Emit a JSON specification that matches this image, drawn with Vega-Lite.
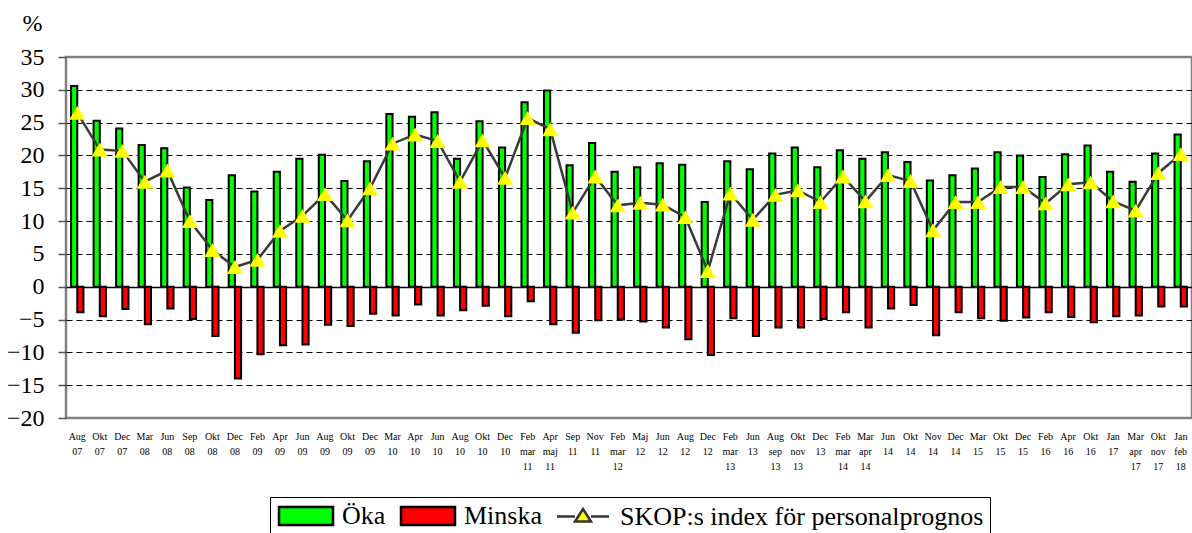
{
  "$schema": "https://vega.github.io/schema/vega-lite/v6.json",
  "autosize": "none",
  "width": 1126,
  "height": 361,
  "padding": {"left": 66, "top": 57, "right": 0, "bottom": 115},
  "background": "white",
  "config": {
    "view": {"stroke": "#808080", "strokeWidth": 2.5},
    "font": "Liberation Serif"
  },
  "data": {
    "values": [
      {"p": "Aug 07", "Öka": 30.6, "Minska": -3.9, "idx": 26.5},
      {"p": "Okt 07", "Öka": 25.3, "Minska": -4.5, "idx": 20.9},
      {"p": "Dec 07", "Öka": 24.1, "Minska": -3.4, "idx": 20.7},
      {"p": "Mar 08", "Öka": 21.6, "Minska": -5.7, "idx": 16.0},
      {"p": "Jun 08", "Öka": 21.1, "Minska": -3.3, "idx": 17.7},
      {"p": "Sep 08", "Öka": 15.1, "Minska": -4.9, "idx": 10.0},
      {"p": "Okt 08", "Öka": 13.2, "Minska": -7.5, "idx": 5.6},
      {"p": "Dec 08", "Öka": 17.0, "Minska": -14.0, "idx": 3.0},
      {"p": "Feb 09", "Öka": 14.5, "Minska": -10.3, "idx": 4.1},
      {"p": "Apr 09", "Öka": 17.5, "Minska": -8.9, "idx": 8.5},
      {"p": "Jun 09", "Öka": 19.5, "Minska": -8.8, "idx": 10.8},
      {"p": "Aug 09", "Öka": 20.1, "Minska": -5.8, "idx": 14.1},
      {"p": "Okt 09", "Öka": 16.1, "Minska": -6.0, "idx": 10.1},
      {"p": "Dec 09", "Öka": 19.1, "Minska": -4.1, "idx": 15.0},
      {"p": "Mar 10", "Öka": 26.3, "Minska": -4.4, "idx": 21.8},
      {"p": "Apr 10", "Öka": 25.9, "Minska": -2.7, "idx": 23.2},
      {"p": "Jun 10", "Öka": 26.6, "Minska": -4.4, "idx": 22.2},
      {"p": "Aug 10", "Öka": 19.5, "Minska": -3.6, "idx": 16.0},
      {"p": "Okt 10", "Öka": 25.2, "Minska": -2.9, "idx": 22.3},
      {"p": "Dec 10", "Öka": 21.2, "Minska": -4.5, "idx": 16.6},
      {"p": "Feb mar 11", "Öka": 28.1, "Minska": -2.2, "idx": 25.7},
      {"p": "Apr maj 11", "Öka": 29.9, "Minska": -5.7, "idx": 24.0},
      {"p": "Sep 11", "Öka": 18.5, "Minska": -7.0, "idx": 11.3},
      {"p": "Nov 11", "Öka": 21.9, "Minska": -5.1, "idx": 16.8},
      {"p": "Feb mar 12", "Öka": 17.5, "Minska": -5.0, "idx": 12.4},
      {"p": "Maj 12", "Öka": 18.2, "Minska": -5.3, "idx": 12.8},
      {"p": "Jun 12", "Öka": 18.8, "Minska": -6.2, "idx": 12.5},
      {"p": "Aug 12", "Öka": 18.6, "Minska": -8.0, "idx": 10.6},
      {"p": "Dec 12", "Öka": 12.9, "Minska": -10.4, "idx": 2.4},
      {"p": "Feb mar 13", "Öka": 19.1, "Minska": -4.8, "idx": 14.2},
      {"p": "Jun 13", "Öka": 17.9, "Minska": -7.5, "idx": 10.2},
      {"p": "Aug sep 13", "Öka": 20.3, "Minska": -6.2, "idx": 14.0},
      {"p": "Okt nov 13", "Öka": 21.2, "Minska": -6.2, "idx": 14.7},
      {"p": "Dec 13", "Öka": 18.2, "Minska": -4.9, "idx": 12.9},
      {"p": "Feb mar 14", "Öka": 20.8, "Minska": -3.9, "idx": 16.8},
      {"p": "Mar apr 14", "Öka": 19.5, "Minska": -6.2, "idx": 13.0},
      {"p": "Jun 14", "Öka": 20.5, "Minska": -3.3, "idx": 17.0},
      {"p": "Okt 14", "Öka": 19.0, "Minska": -2.8, "idx": 16.1},
      {"p": "Nov 14", "Öka": 16.2, "Minska": -7.4, "idx": 8.6},
      {"p": "Dec 14", "Öka": 17.0, "Minska": -3.9, "idx": 12.9},
      {"p": "Mar 15", "Öka": 18.0, "Minska": -4.8, "idx": 12.9},
      {"p": "Okt 15", "Öka": 20.5, "Minska": -5.2, "idx": 15.2},
      {"p": "Dec 15", "Öka": 20.0, "Minska": -4.7, "idx": 15.2},
      {"p": "Feb 16", "Öka": 16.7, "Minska": -3.9, "idx": 12.7},
      {"p": "Apr 16", "Öka": 20.2, "Minska": -4.6, "idx": 15.6},
      {"p": "Okt 16", "Öka": 21.5, "Minska": -5.4, "idx": 15.9},
      {"p": "Jan 17", "Öka": 17.5, "Minska": -4.5, "idx": 13.0},
      {"p": "Mar apr 17", "Öka": 16.0, "Minska": -4.4, "idx": 11.6},
      {"p": "Okt nov 17", "Öka": 20.3, "Minska": -3.0, "idx": 17.3},
      {"p": "Jan feb 18", "Öka": 23.2, "Minska": -3.0, "idx": 20.2}
    ]
  },
  "transform": [{"fold": ["Öka", "Minska", "idx"], "as": ["series", "value"]}],
  "encoding": {
    "x": {
      "field": "p",
      "type": "ordinal",
      "sort": null,
      "scale": {"paddingInner": 0.45, "paddingOuter": 0.225},
      "axis": {
        "title": null,
        "labelAngle": 0,
        "labelExpr": "split(datum.label, ' ')",
        "labelFont": "Liberation Serif",
        "labelFontSize": 10,
        "labelColor": "black",
        "labelLineHeight": 15,
        "labelBaseline": "top",
        "labelPadding": 13,
        "labelOverlap": false,
        "domain": false,
        "ticks": false,
        "grid": false
      }
    },
    "y": {
      "field": "value",
      "type": "quantitative",
      "scale": {"domain": [-20, 35], "nice": false, "zero": false},
      "axis": {
        "values": [-20, -15, -10, -5, 0, 5, 10, 15, 20, 25, 30, 35],
        "title": "%",
        "titleAngle": 0,
        "titleAlign": "left",
        "titleBaseline": "alphabetic",
        "titleX": -44,
        "titleY": -27,
        "titleFont": "Liberation Serif",
        "titleFontSize": 24,
        "titleFontWeight": "normal",
        "titleColor": "black",
        "labelFont": "Liberation Serif",
        "labelFontSize": 24,
        "labelColor": "black",
        "labelPadding": 14,
        "labelOverlap": false,
        "tickSize": 8,
        "tickColor": "#555555",
        "tickWidth": 1.5,
        "domain": false,
        "grid": true,
        "gridColor": "black",
        "gridDash": {"condition": {"test": "datum.value === 0", "value": []}, "value": [6, 4]},
        "gridWidth": {"condition": {"test": "datum.value === 0", "value": 1.5}, "value": 1},
        "gridOpacity": {"condition": {"test": "datum.value === 35 || datum.value === -20", "value": 0}, "value": 1}
      }
    }
  },
  "layer": [
    {
      "transform": [{"filter": "datum.series !== 'idx'"}],
      "mark": {"type": "bar", "stroke": "black", "strokeWidth": 2, "strokeJoin": "miter"},
      "encoding": {
        "xOffset": {"field": "series", "type": "nominal", "sort": ["Öka", "Minska"], "scale": {"paddingInner": 0, "paddingOuter": 0}},
        "fill": {
          "field": "series",
          "type": "nominal",
          "scale": {
            "domain": ["Öka", "Minska", "SKOP:s index för personalprognos"],
            "range": ["#00ff00", "#ff0000", "#ffff00"]
          },
          "legend": {
            "title": null,
            "orient": "none",
            "legendX": 204,
            "legendY": 440,
            "direction": "horizontal",
            "strokeColor": "black",
            "padding": 6,
            "labelFont": "Liberation Serif",
            "labelFontSize": 26,
            "labelColor": "black",
            "labelLimit": 600,
            "labelOffset": 40,
            "columnPadding": 10,
            "symbolSize": 400,
            "symbolStrokeColor": "black",
            "symbolStrokeWidth": 2.5,
            "symbolOpacity": 1,
            "encode": {
              "symbols": {
                "update": {
                  "shape": {"signal": "datum.value === 'SKOP:s index för personalprognos' ? 'M-1,0H0.8M2.4,0H4.2M1.6,-0.75L2.4,0.5L0.8,0.5Z' : 'M-1,-0.9H4.4V0.9H-1Z'"},
                  "stroke": {"signal": "datum.value === 'SKOP:s index för personalprognos' ? '#333333' : 'black'"},
                  "strokeWidth": {"value": 2.5},
                  "opacity": {"value": 1}
                }
              }
            }
          }
        }
      }
    },
    {
      "transform": [{"filter": "datum.series === 'idx'"}],
      "mark": {"type": "line", "color": "#3a3a3a", "strokeWidth": 2.5}
    },
    {
      "transform": [{"filter": "datum.series === 'idx'"}],
      "mark": {"type": "point", "shape": "triangle-up", "filled": true, "size": 256, "opacity": 1, "strokeOpacity": 0, "strokeWidth": 0},
      "encoding": {
        "fill": {"datum": "SKOP:s index för personalprognos"}
      }
    }
  ]
}
